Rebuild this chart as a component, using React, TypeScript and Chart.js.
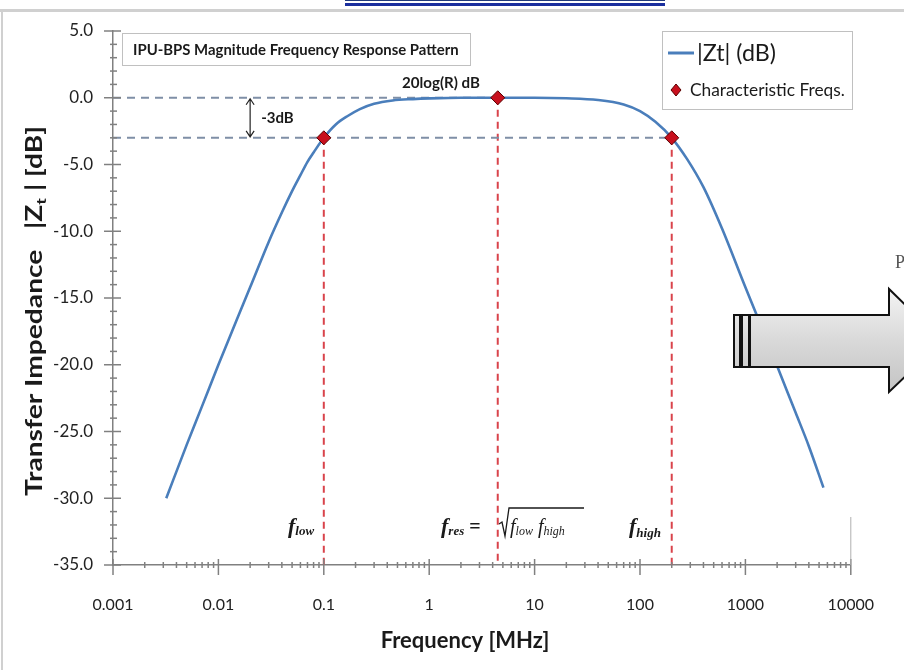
import React, { useEffect, useRef } from "react";
import { Chart, registerables } from "chart.js";

Chart.register(...registerables);

// ---- data ----
const freqMHz = [0.0032, 0.005, 0.007, 0.01, 0.015, 0.02, 0.03, 0.04, 0.05, 0.06, 0.07, 0.08, 0.1, 0.13, 0.17, 0.22, 0.3, 0.45, 0.7, 1, 2, 4.47, 10, 20, 40, 70, 100, 140, 200, 280, 400, 600, 1000, 1500, 2000, 3000, 4000, 5500];
const magDb = [-30.0, -26.0, -23.1, -20.0, -16.6, -14.2, -10.8, -8.6, -7.0, -5.8, -4.8, -4.1, -3.0, -2.0, -1.35, -0.85, -0.45, -0.2, -0.1, -0.05, 0, 0, 0, -0.04, -0.17, -0.5, -1.0, -1.8, -3.0, -4.6, -6.7, -9.8, -14.2, -17.6, -20.1, -23.6, -26.1, -29.2];

const charFreqs = [0.1, 4.47, 200];
const charDb = [-3, 0, -3];

const xTickValues = [0.001, 0.01, 0.1, 1, 10, 100, 1000, 10000];
const yMin = -35;
const yMax = 5;
const yStep = 5;

const chartTitle = "IPU-BPS Magnitude Frequency Response Pattern";
const seriesLabel = "|Zt| (dB)";
const charLabel = "Characteristic Freqs.";
const xTitle = "Frequency [MHz]";

const SANS = "Lato, 'Open Sans', sans-serif";
const SERIF = "'Liberation Serif', 'DejaVu Serif', serif";

type Run = { text: string; font: string; dy?: number; color?: string };

function drawRuns(ctx: CanvasRenderingContext2D, x: number, y: number, runs: Run[]) {
  let cx = x;
  for (const r of runs) {
    ctx.font = r.font;
    ctx.fillStyle = r.color || "#1a1a1a";
    ctx.fillText(r.text, cx, y + (r.dy || 0));
    cx += ctx.measureText(r.text).width;
  }
  return cx;
}

function runsWidth(ctx: CanvasRenderingContext2D, runs: Run[]) {
  let w = 0;
  for (const r of runs) {
    ctx.font = r.font;
    w += ctx.measureText(r.text).width;
  }
  return w;
}

function fitSize(ctx: CanvasRenderingContext2D, text: string, weight: string, family: string, target: number) {
  ctx.font = `${weight} 20px ${family}`;
  const w = ctx.measureText(text).width;
  return (20 * target) / w;
}

const decorPlugin = {
  id: "decor",
  afterDraw(chart: any) {
    const ctx: CanvasRenderingContext2D = chart.ctx;
    const xs = chart.scales.x;
    const ys = chart.scales.y;
    const area = chart.chartArea;
    ctx.save();
    ctx.textBaseline = "alphabetic";
    ctx.textAlign = "left";

    // slide frame remnants
    ctx.fillStyle = "#d0d0d0";
    ctx.fillRect(0, 9, 904, 3);
    ctx.fillRect(1, 9, 2, 661);
    ctx.fillStyle = "#1b2f9e";
    ctx.fillRect(345, 3, 320, 3);
    ctx.fillStyle = "#223a7a";
    ctx.fillRect(345, 0, 320, 1);

    // axis ticks
    ctx.strokeStyle = "#808080";
    ctx.lineWidth = 1.5;
    const ax = area.left;
    for (let v = yMin; v <= yMax; v += 1) {
      const py = ys.getPixelForValue(v);
      ctx.beginPath();
      if (v % yStep === 0) {
        ctx.moveTo(ax - 9, py);
        ctx.lineTo(ax + 8, py);
      } else {
        ctx.moveTo(ax - 3, py);
        ctx.lineTo(ax + 4, py);
      }
      ctx.stroke();
    }
    const by = area.bottom;
    for (let e = -3; e <= 4; e++) {
      for (let m = 1; m <= 9; m++) {
        const v = m * Math.pow(10, e);
        if (v > 10000) break;
        const px = xs.getPixelForValue(v);
        ctx.beginPath();
        if (m === 1) {
          ctx.moveTo(px, by - 6);
          ctx.lineTo(px, by + 10);
        } else {
          ctx.moveTo(px, by - 3);
          ctx.lineTo(px, by + 3);
        }
        ctx.stroke();
      }
    }
    // faint right border near bottom
    ctx.strokeStyle = "#b0b0b0";
    ctx.lineWidth = 1;
    ctx.beginPath();
    ctx.moveTo(area.right, area.bottom - 48);
    ctx.lineTo(area.right, area.bottom);
    ctx.stroke();

    // title box
    ctx.fillStyle = "#ffffff";
    ctx.fillRect(122, 33, 348, 32);
    ctx.strokeStyle = "#c0c0c0";
    ctx.lineWidth = 1;
    ctx.strokeRect(122.5, 33.5, 348, 32);
    const ts = fitSize(ctx, chartTitle, "bold", SANS, 326);
    ctx.font = `bold ${ts}px ${SANS}`;
    ctx.fillStyle = "#1a1a1a";
    ctx.fillText(chartTitle, 133, 55);

    // legend box
    ctx.fillStyle = "#ffffff";
    ctx.fillRect(662, 31, 190, 78);
    ctx.strokeStyle = "#c0c0c0";
    ctx.strokeRect(662.5, 31.5, 190, 78);
    ctx.strokeStyle = "#4a7ebb";
    ctx.lineWidth = 3;
    ctx.beginPath();
    ctx.moveTo(668, 53);
    ctx.lineTo(694, 53);
    ctx.stroke();
    const ls = fitSize(ctx, seriesLabel, "normal", SANS, 79);
    ctx.font = `${ls}px ${SANS}`;
    ctx.fillStyle = "#1a1a1a";
    ctx.fillText(seriesLabel, 697, 61);
    // diamond
    const dx = 676, dy = 90;
    ctx.beginPath();
    ctx.moveTo(dx, dy - 6);
    ctx.lineTo(dx + 5, dy);
    ctx.lineTo(dx, dy + 6);
    ctx.lineTo(dx - 5, dy);
    ctx.closePath();
    ctx.fillStyle = "#c8101e";
    ctx.fill();
    ctx.strokeStyle = "#5a0000";
    ctx.lineWidth = 1;
    ctx.stroke();
    const cs = fitSize(ctx, charLabel, "normal", SANS, 155);
    ctx.font = `${cs}px ${SANS}`;
    ctx.fillStyle = "#1a1a1a";
    ctx.fillText(charLabel, 690, 96);

    // annotations
    const y0 = ys.getPixelForValue(0);
    const y3 = ys.getPixelForValue(-3);
    const arrX = xs.getPixelForValue(0.02);
    ctx.strokeStyle = "#222";
    ctx.lineWidth = 1.2;
    ctx.beginPath();
    ctx.moveTo(arrX, y0 + 1);
    ctx.lineTo(arrX, y3 - 1);
    ctx.moveTo(arrX - 4, y0 + 7);
    ctx.lineTo(arrX, y0 + 1);
    ctx.lineTo(arrX + 4, y0 + 7);
    ctx.moveTo(arrX - 4, y3 - 7);
    ctx.lineTo(arrX, y3 - 1);
    ctx.lineTo(arrX + 4, y3 - 7);
    ctx.stroke();
    ctx.font = `bold 15px ${SANS}`;
    ctx.fillStyle = "#1a1a1a";
    ctx.fillText("-3dB", arrX + 11, y0 + 25);
    const rs = fitSize(ctx, "20log(R) dB", "bold", SANS, 78);
    ctx.font = `bold ${rs}px ${SANS}`;
    ctx.fillText("20log(R) dB", 402, 88);

    // frequency labels
    const fb = `italic bold 22px ${SERIF}`;
    const fbs = `italic bold 13px ${SERIF}`;
    const fi = `italic 20px ${SERIF}`;
    const fis = `italic 12px ${SERIF}`;
    drawRuns(ctx, 288, 533, [
      { text: "f", font: fb },
      { text: "low", font: fbs, dy: 2 },
    ]);
    drawRuns(ctx, 441, 533, [
      { text: "f", font: fb },
      { text: "res", font: fbs, dy: 2 },
      { text: " =", font: `bold 20px ${SERIF}` },
    ]);
    // radical sign
    const rx = 500;
    ctx.strokeStyle = "#1a1a1a";
    ctx.lineWidth = 1.3;
    ctx.beginPath();
    ctx.moveTo(rx - 1, 524);
    ctx.lineTo(rx + 2, 522);
    ctx.lineTo(rx + 5, 536);
    ctx.lineTo(rx + 9, 508);
    ctx.lineTo(584, 508);
    ctx.stroke();
    drawRuns(ctx, rx + 10, 533, [
      { text: "f", font: fi },
      { text: "low", font: fis, dy: 2 },
      { text: " f", font: fi },
      { text: "high", font: fis, dy: 2 },
    ]);
    drawRuns(ctx, 629, 533, [
      { text: "f", font: fb },
      { text: "high", font: fbs, dy: 4 },
    ]);

    // axis titles
    ctx.fillStyle = "#1a1a1a";
    ctx.font = `bold 22px ${SANS}`;
    ctx.textAlign = "center";
    ctx.fillText(xTitle, 465, 648);
    ctx.textAlign = "left";

    const yRuns: Run[] = [
      { text: "Transfer Impedance   |Z", font: `bold 22px ${SANS}` },
      { text: "t", font: `bold 14px ${SANS}`, dy: 4 },
      { text: " | [dB]", font: `bold 22px ${SANS}` },
    ];
    const tw = runsWidth(ctx, yRuns);
    const k = 370 / tw;
    ctx.save();
    ctx.translate(42, 311);
    ctx.rotate(-Math.PI / 2);
    ctx.scale(k, 1);
    drawRuns(ctx, -tw / 2, 0, yRuns);
    ctx.restore();

    // slide arrow overlay
    const grad = ctx.createLinearGradient(0, 289, 0, 392);
    grad.addColorStop(0, "#f4f4f4");
    grad.addColorStop(0.5, "#d9d9d9");
    grad.addColorStop(1, "#c4c4c4");
    ctx.fillStyle = grad;
    ctx.strokeStyle = "#111";
    ctx.lineWidth = 2;
    ctx.beginPath();
    ctx.moveTo(750, 315);
    ctx.lineTo(889, 315);
    ctx.lineTo(889, 289);
    ctx.lineTo(942, 341);
    ctx.lineTo(889, 392);
    ctx.lineTo(889, 367);
    ctx.lineTo(750, 367);
    ctx.closePath();
    ctx.fill();
    ctx.stroke();
    ctx.fillRect(734, 315, 6, 52);
    ctx.strokeRect(734, 315, 6, 52);
    ctx.fillRect(742, 315, 7, 52);
    ctx.strokeRect(742, 315, 7, 52);

    ctx.fillStyle = "#555";
    ctx.font = `18px ${SERIF}`;
    ctx.fillText("P", 895, 268);

    ctx.restore();
  },
};

export default function App() {
  const ref = useRef<HTMLCanvasElement>(null);
  useEffect(() => {
    if (!ref.current) return;
    const curve = freqMHz.map((f, i) => ({ x: f, y: magDb[i] }));
    const pts = charFreqs.map((f, i) => ({ x: f, y: charDb[i] }));
    const hLines = [
      [{ x: xTickValues[0], y: charDb[1] }, { x: charFreqs[1], y: charDb[1] }],
      [{ x: xTickValues[0], y: charDb[0] }, { x: charFreqs[2], y: charDb[2] }],
    ];
    const vLines = charFreqs.map((f, i) => [{ x: f, y: charDb[i] }, { x: f, y: yMin }]);

    const datasets: any[] = [
      {
        label: charLabel,
        data: pts,
        showLine: false,
        pointStyle: "rectRot",
        pointRadius: 7,
        backgroundColor: "#c8101e",
        borderColor: "#5a0000",
        pointBorderWidth: 1,
        order: 0,
      },
      {
        label: seriesLabel,
        data: curve,
        borderColor: "#4a7ebb",
        borderWidth: 2.6,
        pointRadius: 0,
        cubicInterpolationMode: "monotone",
        fill: false,
        order: 1,
      },
      ...hLines.map((d) => ({
        label: "_h",
        data: d,
        borderColor: "#7f8fa6",
        borderWidth: 2,
        borderDash: [8, 6],
        pointRadius: 0,
        fill: false,
        order: 2,
      })),
      ...vLines.map((d) => ({
        label: "_v",
        data: d,
        borderColor: "#d9434b",
        borderWidth: 2,
        borderDash: [7, 5],
        pointRadius: 0,
        fill: false,
        order: 2,
      })),
    ];

    const chart = new Chart(ref.current, {
      type: "line",
      data: { datasets },
      options: {
        animation: false,
        responsive: false,
        devicePixelRatio: 1,
        layout: { padding: { left: 0, top: 31, right: 53, bottom: 0 } },
        plugins: {
          legend: { display: false },
          tooltip: { enabled: false },
          title: { display: false },
        },
        scales: {
          x: {
            type: "logarithmic",
            min: xTickValues[0],
            max: xTickValues[xTickValues.length - 1],
            afterBuildTicks: (s: any) => {
              s.ticks = xTickValues.map((v) => ({ value: v }));
            },
            afterFit: (s: any) => {
              s.height = 105;
            },
            grid: { display: true, drawOnChartArea: false, drawTicks: false },
            border: { display: true, color: "#808080", width: 1.5 },
            ticks: {
              autoSkip: false,
              maxRotation: 0,
              padding: 30,
              color: "#222",
              font: { family: SANS, size: 16 },
              callback: (v: any) => String(Number(Number(v).toPrecision(1))),
            },
          },
          y: {
            type: "linear",
            min: yMin,
            max: yMax,
            afterFit: (s: any) => {
              s.width = 113;
            },
            grid: { display: true, drawOnChartArea: false, drawTicks: false },
            border: { display: true, color: "#808080", width: 1.5 },
            ticks: {
              stepSize: yStep,
              padding: 20,
              color: "#222",
              font: { family: SANS, size: 17 },
              callback: (v: any) => Number(v).toFixed(1),
            },
          },
        },
      },
      plugins: [decorPlugin],
    });
    return () => chart.destroy();
  }, []);

  return (
    <div style={{ position: "absolute", left: 0, top: 0, width: 904, height: 670, background: "#fff" }}>
      <canvas ref={ref} width={904} height={670} />
    </div>
  );
}
